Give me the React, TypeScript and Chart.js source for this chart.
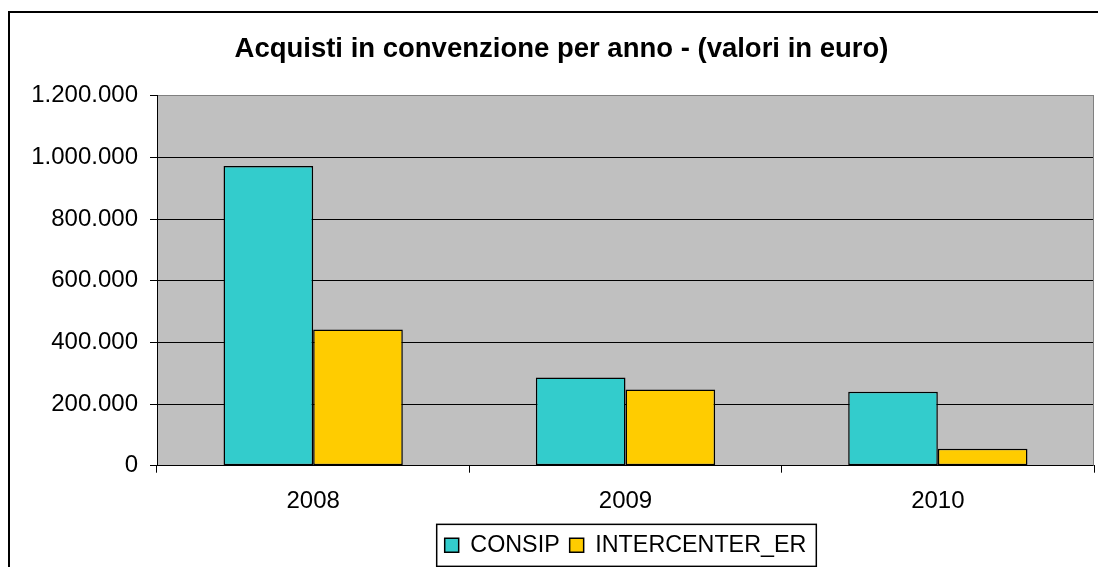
import React, { useEffect, useRef } from 'react';
import { Chart, registerables } from 'chart.js';
Chart.register(...registerables);

const categories = ['2008', '2009', '2010'];
const seriesNames = ['CONSIP', 'INTERCENTER_ER'];
const consipValues = [972000, 286000, 240000];
const intercenterValues = [442000, 247000, 55000];
const yTicks = [0, 200000, 400000, 600000, 800000, 1000000, 1200000];
const titleText = 'Acquisti in convenzione per anno - (valori in euro)';

const FONT = "'Liberation Sans', Arial, sans-serif";

function fmt(v: number): string {
  return String(Math.round(v)).replace(/\B(?=(\d{3})+(?!\d))/g, '.');
}

const deco = {
  id: 'deco',
  beforeDraw(chart: any) {
    const { ctx, chartArea: a } = chart;
    ctx.save();
    ctx.fillStyle = '#ffffff';
    ctx.fillRect(0, 0, chart.width, chart.height);
    ctx.fillStyle = '#C0C0C0';
    ctx.fillRect(a.left, a.top, a.right - a.left, a.bottom - a.top);
    ctx.strokeStyle = '#000';
    ctx.lineWidth = 2;
    ctx.strokeRect(9, 12, chart.width + 50, chart.height + 50);
    ctx.restore();
  },
  afterDraw(chart: any) {
    const { ctx, chartArea: a } = chart;
    ctx.save();
    ctx.strokeStyle = '#808080';
    ctx.lineWidth = 1;
    ctx.beginPath();
    ctx.moveTo(a.right - 0.5, a.top);
    ctx.lineTo(a.right - 0.5, a.bottom);
    ctx.stroke();
    const hb = chart.legend && chart.legend.legendHitBoxes;
    if (hb && hb.length) {
      const first = hb[0];
      const last = hb[hb.length - 1];
      const cy = first.top + first.height / 2;
      const left = first.left - 8;
      const right = last.left + last.width + 10;
      ctx.strokeStyle = '#000';
      ctx.lineWidth = 1.5;
      ctx.strokeRect(left, cy - 21, right - left, 42);
    }
    ctx.restore();
  },
};

export default function App() {
  const ref = useRef<HTMLCanvasElement | null>(null);
  useEffect(() => {
    if (!ref.current) return;
    const chart = new Chart(ref.current, {
      type: 'bar',
      data: {
        labels: categories,
        datasets: [
          {
            label: seriesNames[0],
            data: consipValues,
            backgroundColor: '#33CCCC',
            borderColor: '#000000',
            borderWidth: 1.5,
            borderSkipped: false,
          },
          {
            label: seriesNames[1],
            data: intercenterValues,
            backgroundColor: '#FFCC00',
            borderColor: '#000000',
            borderWidth: 1.5,
            borderSkipped: false,
          },
        ],
      },
      options: {
        responsive: false,
        animation: false,
        layout: { padding: { left: 29, right: 4, top: 0, bottom: 0 } },
        datasets: { bar: { categoryPercentage: 0.574, barPercentage: 1 } },
        plugins: {
          title: {
            display: true,
            text: titleText,
            color: '#000',
            font: { family: FONT, size: 27.5, weight: 'bold' },
            padding: { top: 32.5, bottom: 30.2 },
          },
          legend: {
            display: true,
            position: 'bottom',
            fullSize: false,
            labels: {
              color: '#000',
              font: { family: FONT, size: 23.3 },
              boxWidth: 14,
              boxHeight: 14,
              padding: 10,
            },
          },
          tooltip: { enabled: false },
        },
        scales: {
          x: {
            afterFit: (s: any) => { s.height = 58; },
            grid: {
              display: true,
              drawOnChartArea: false,
              drawTicks: true,
              tickLength: 7,
              color: '#000',
              offset: true,
            },
            border: { display: true, color: '#000', width: 1 },
            ticks: {
              color: '#000',
              font: { family: FONT, size: 24 },
              padding: 14,
              maxRotation: 0,
            },
          },
          y: {
            min: 0,
            max: 1200000,
            afterFit: (s: any) => { s.width = 128; },
            afterBuildTicks: (s: any) => { s.ticks = yTicks.map((v) => ({ value: v })); },
            grid: {
              color: (c: any) => (c.tick && c.tick.value === 1200000 ? '#808080' : '#000'),
              tickColor: '#000',
              tickLength: 7,
              lineWidth: 1,
            },
            border: { display: true, color: '#000', width: 1 },
            ticks: {
              color: '#000',
              font: { family: FONT, size: 24 },
              padding: 12,
              callback: (v: any) => fmt(Number(v)),
            },
          },
        },
      },
      plugins: [deco],
    } as any);
    return () => chart.destroy();
  }, []);
  return (
    <div style={{ position: 'fixed', left: 0, top: 0, width: 1098, height: 567 }}>
      <canvas ref={ref} width={1098} height={567} />
    </div>
  );
}
